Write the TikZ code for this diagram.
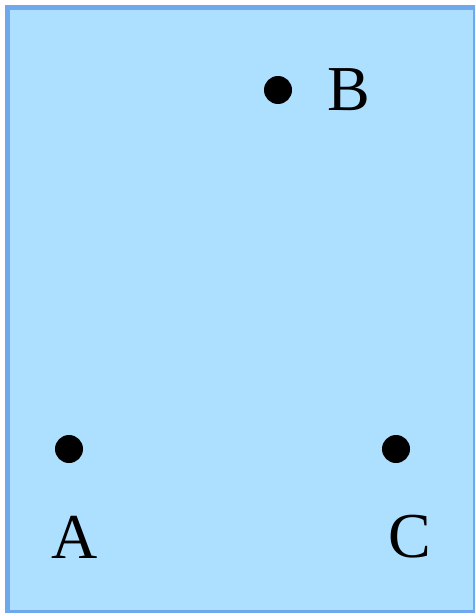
\documentclass[tikz,border=0pt]{standalone}
\usepackage{fontspec}
\setmainfont{Liberation Serif}
\usetikzlibrary{positioning}
\definecolor{panelfill}{HTML}{ADDFFF}
\definecolor{panelline}{HTML}{6FA8EC}

\begin{document}
\begin{tikzpicture}[
  x=1pt, y=-1pt,
  dot/.style={circle, fill=black, inner sep=0pt, minimum size=28pt},
  lbl/.style={inner sep=0pt, font=\fontsize{64}{64}\selectfont}
]
\useasboundingbox (0,0) rectangle (475,613);
\begin{scope}
\clip (0,0) rectangle (475,613);
\draw[panelline, fill=panelfill, line width=4.5pt] (7.5,7.5) rectangle (475,612.5);
\end{scope}
% points
\node[dot] (ptB) at (278,90) {};
\node[dot] (ptA) at (69,449) {};
\node[dot] (ptC) at (396,449) {};
% labels
\node[lbl] (labB) at (349,90) {B};
\node[lbl] (labA) at (75,537) {A};
\node[lbl] (labC) at (410,537) {C};
\end{tikzpicture}
\end{document}
